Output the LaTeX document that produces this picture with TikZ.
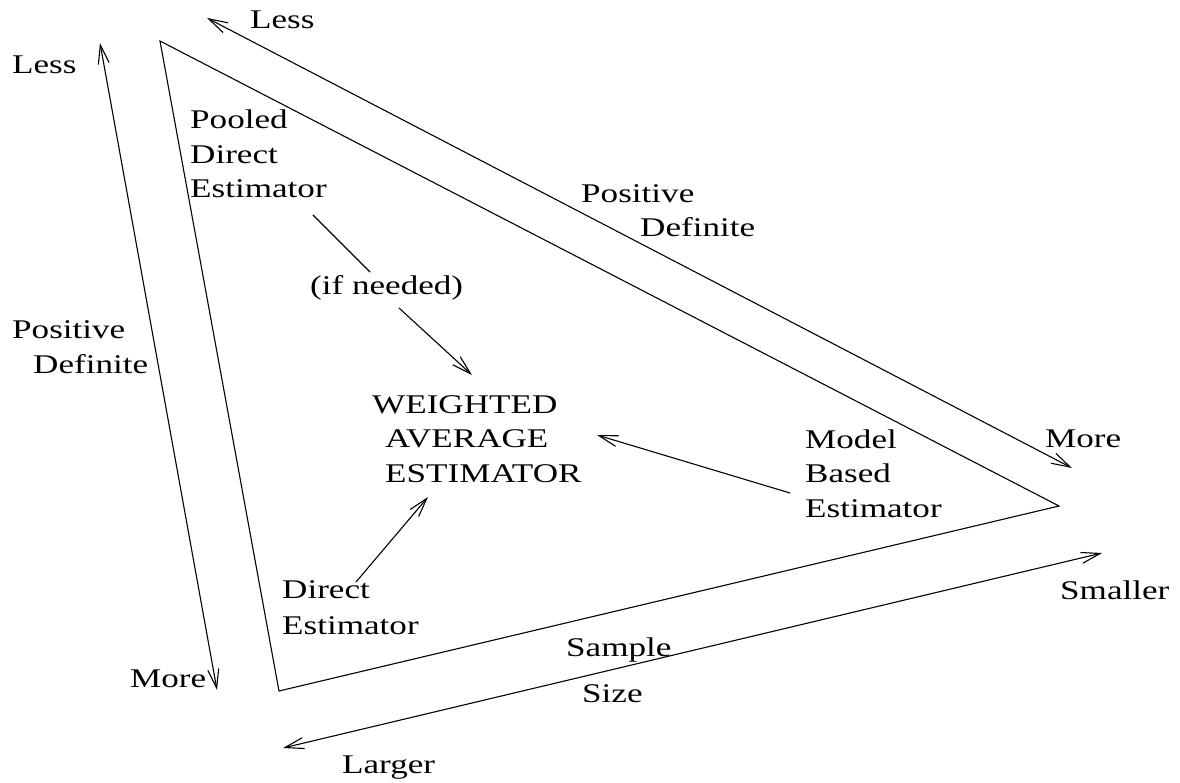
\documentclass[tikz,border=0pt]{standalone}
\usepackage{fontspec}
\setmainfont[FakeStretch=1.3]{Liberation Serif}
\usetikzlibrary{arrows.meta}
\begin{document}
\begin{tikzpicture}[x=1pt,y=-1pt,
  lbl/.style={inner sep=0pt,anchor=base west,align=left,font=\fontsize{27}{34.5}\selectfont},
  ln/.style={line width=1.1pt,line cap=round,line join=miter},
  tip/.style={-{Straight Barb[length=19pt,width=11pt,line width=1.1pt]}},
  dtip/.style={{Straight Barb[length=19pt,width=11pt,line width=1.1pt]}-{Straight Barb[length=19pt,width=11pt,line width=1.1pt]}}]
\useasboundingbox (0,0) rectangle (1180,783);
% triangle
\coordinate (ta) at (160,41);
\coordinate (tb) at (1059,506);
\coordinate (tc) at (279,691);
\draw[ln] (ta) -- (tb) -- (tc) -- cycle;
% texts (multi-line nodes are placed by the baseline of their last line)
\node[lbl] (lessT) at (250,29) {Less};
\node[lbl] (lessL) at (12,74) {Less};
\node[lbl] (pooled) at (190,198) {Pooled\\Direct\\Estimator};
\node[lbl] (pdT) at (581,237) {Positive\\\hspace*{59pt}Definite};
\node[lbl] (ifn) at (310,295) {(if needed)};
\node[lbl] (pdL) at (12,373) {Positive\\\hspace*{21pt}Definite};
\node[lbl] (wae) at (372,482) {WEIGHTED\\\hspace*{13pt}AVERAGE\\\hspace*{13pt}ESTIMATOR};
\node[lbl] (model) at (805,517) {Model\\Based\\Estimator};
\node[lbl] (moreR) at (1045,447) {More};
\node[lbl,font=\fontsize{27}{36}\selectfont] (direct) at (282,634) {Direct\\Estimator};
\node[lbl] (smaller) at (1060,599) {Smaller};
\node[lbl] (sample) at (566,656) {Sample};
\node[lbl] (size) at (582,702) {Size};
\node[lbl] (moreL) at (130,687) {More};
\node[lbl] (larger) at (342,773) {Larger};
% side arrows
\coordinate (lA) at (100,43);
\coordinate (lB) at (217,690);
\coordinate (tA) at (207,18);
\coordinate (tB) at (1072,468);
\coordinate (bA) at (1102,553);
\coordinate (bB) at (283,748);
\draw[ln,dtip] (lA) -- (lB);
\draw[ln,dtip] (tA) -- (tB);
\draw[ln,dtip] (bA) -- (bB);
% inner connectors
\coordinate (p1) at (313,215);
\coordinate (p2) at (370,272);
\coordinate (i1) at (399,308);
\coordinate (w1) at (472,375);
\coordinate (m1) at (790,493);
\coordinate (w2) at (597,435);
\coordinate (d1) at (356,582);
\coordinate (w3) at (428,497);
\draw[ln] (p1) -- (p2);
\draw[ln,tip] (i1) -- (w1);
\draw[ln,tip] (m1) -- (w2);
\draw[ln,tip] (d1) -- (w3);
\end{tikzpicture}
\end{document}
